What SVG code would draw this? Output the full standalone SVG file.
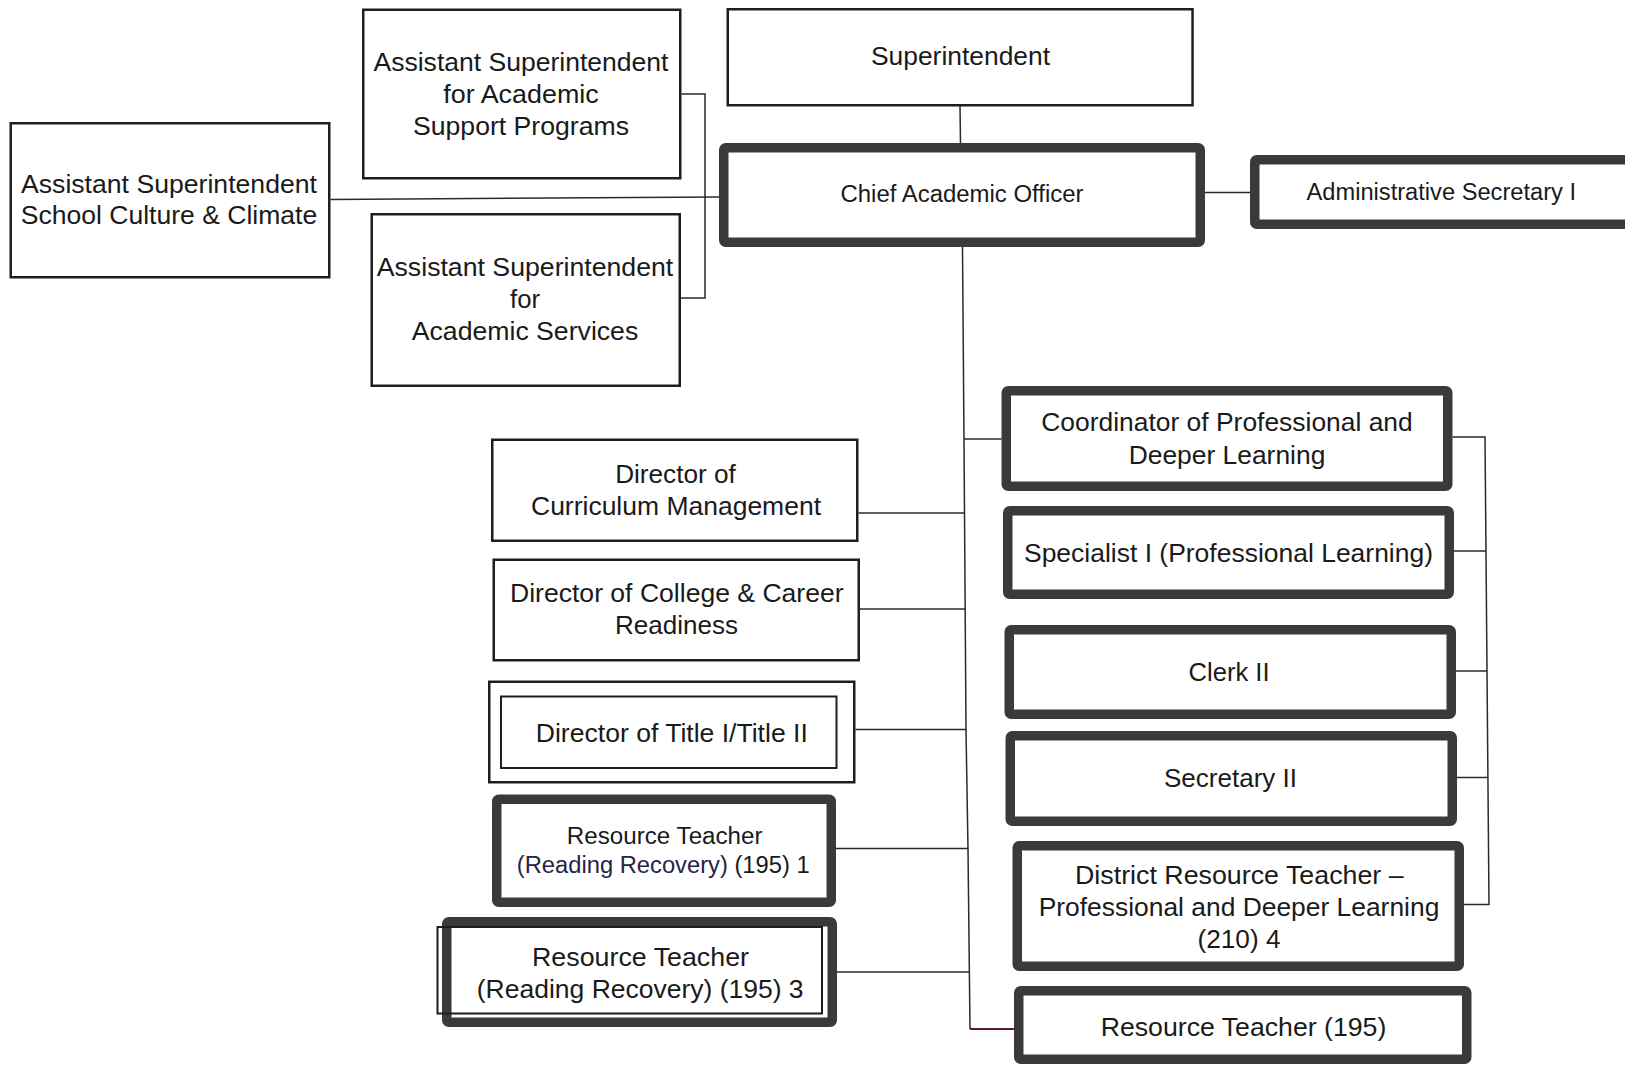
<svg xmlns="http://www.w3.org/2000/svg" width="1625" height="1066" viewBox="0 0 1625 1066">
<style>
  .bg{fill:#ffffff}
  .thin{fill:#ffffff;stroke:#1e1e1e;stroke-width:2.5}
  .thin2{fill:none;stroke:#1e1e1e;stroke-width:2}
  .thick{fill:#ffffff;stroke:#3a3a3a;stroke-width:9.5}
  .conn{fill:none;stroke:#2a2a2a;stroke-width:1.5}
  .connr{fill:none;stroke:#5a1a26;stroke-width:2}
  text{font-family:"Liberation Sans",Arial,sans-serif;fill:#1a1a1a;text-anchor:middle}
  .f25{font-size:25px}
  .f26{font-size:26px}
  .f235{font-size:23.5px}
</style>
<rect class="bg" x="0" y="0" width="1625" height="1066"/>

<g id="connectors">
  <line class="conn" x1="960" y1="106" x2="960.5" y2="143"/>
  <line class="conn" x1="330.5" y1="199.5" x2="719" y2="197"/>
  <polyline class="conn" points="681.5,94 705,94 705,298 681,298"/>
  <line class="conn" x1="1205" y1="192.5" x2="1250" y2="192.5"/>
  <polyline class="conn" points="962.5,247 964,440 966,730 968,849 970,1029"/>
  <line class="conn" x1="964" y1="439" x2="1001.5" y2="439"/>
  <line class="conn" x1="858.5" y1="513" x2="964.8" y2="513"/>
  <line class="conn" x1="860" y1="609" x2="965.5" y2="609"/>
  <line class="conn" x1="855.5" y1="729.5" x2="966" y2="729.5"/>
  <line class="conn" x1="836" y1="848.5" x2="968" y2="848.5"/>
  <line class="conn" x1="837" y1="972" x2="969.4" y2="972"/>
  <line class="connr" x1="970" y1="1029" x2="1014" y2="1029"/>
  <polyline class="conn" points="1452.5,437 1485,437 1489,904.5 1464,904.5"/>
  <line class="conn" x1="1454" y1="551" x2="1486" y2="551"/>
  <line class="conn" x1="1456" y1="671" x2="1487" y2="671"/>
  <line class="conn" x1="1457" y1="777.5" x2="1488" y2="777.5"/>
</g>

<g id="asst-supt-academic-support">
  <rect class="thin" x="363.25" y="9.75" width="317" height="168.5"/>
  <text class="f25" x="521" y="71" textLength="295" lengthAdjust="spacingAndGlyphs">Assistant Superintendent</text>
  <text class="f25" x="521" y="103" textLength="155.5" lengthAdjust="spacingAndGlyphs">for Academic</text>
  <text class="f25" x="521" y="135" textLength="216" lengthAdjust="spacingAndGlyphs">Support Programs</text>
</g>

<g id="superintendent">
  <rect class="thin" x="727.75" y="9.25" width="464.8" height="96"/>
  <text class="f25" x="960.5" y="65" textLength="179" lengthAdjust="spacingAndGlyphs">Superintendent</text>
</g>

<g id="asst-supt-culture-climate">
  <rect class="thin" x="10.75" y="123.25" width="318.5" height="154"/>
  <text class="f25" x="169" y="192.5" textLength="296" lengthAdjust="spacingAndGlyphs">Assistant Superintendent</text>
  <text class="f25" x="169" y="223.5" textLength="296.5" lengthAdjust="spacingAndGlyphs">School Culture &amp; Climate</text>
</g>

<g id="chief-academic-officer">
  <rect class="thick" x="723.75" y="147.75" width="476.5" height="94.5" rx="2"/>
  <text class="f235" x="962" y="202" textLength="243" lengthAdjust="spacingAndGlyphs">Chief Academic Officer</text>
</g>

<g id="administrative-secretary">
  <rect class="thick" x="1254.75" y="159.75" width="380" height="64.5" rx="2"/>
  <text class="f235" x="1441.3" y="199.5" textLength="269.6" lengthAdjust="spacingAndGlyphs">Administrative Secretary I</text>
</g>

<g id="asst-supt-academic-services">
  <rect class="thin" x="371.75" y="214.25" width="308" height="171.5"/>
  <text class="f25" x="525" y="276" textLength="296.5" lengthAdjust="spacingAndGlyphs">Assistant Superintendent</text>
  <text class="f25" x="525" y="307.5" textLength="30" lengthAdjust="spacingAndGlyphs">for</text>
  <text class="f25" x="525" y="339.5" textLength="226.5" lengthAdjust="spacingAndGlyphs">Academic Services</text>
</g>

<g id="coordinator-professional-learning">
  <rect class="thick" x="1006.25" y="390.75" width="441.5" height="95.5" rx="2"/>
  <text class="f26" x="1227" y="430.5" textLength="371.5" lengthAdjust="spacingAndGlyphs">Coordinator of Professional and</text>
  <text class="f26" x="1227" y="463.5" textLength="196.7" lengthAdjust="spacingAndGlyphs">Deeper Learning</text>
</g>

<g id="director-curriculum">
  <rect class="thin" x="492.25" y="439.75" width="365" height="101"/>
  <text class="f26" x="675.5" y="482.5" textLength="120.7" lengthAdjust="spacingAndGlyphs">Director of</text>
  <text class="f26" x="676" y="515" textLength="290" lengthAdjust="spacingAndGlyphs">Curriculum Management</text>
</g>

<g id="specialist-professional-learning">
  <rect class="thick" x="1007.75" y="510.75" width="441.5" height="83.5" rx="2"/>
  <text class="f26" x="1228.5" y="561.5" textLength="409" lengthAdjust="spacingAndGlyphs">Specialist I (Professional Learning)</text>
</g>

<g id="director-college-career">
  <rect class="thin" x="493.75" y="559.75" width="365" height="100.5"/>
  <text class="f26" x="676.8" y="602" textLength="333.6" lengthAdjust="spacingAndGlyphs">Director of College &amp; Career</text>
  <text class="f26" x="676.5" y="634" textLength="123" lengthAdjust="spacingAndGlyphs">Readiness</text>
</g>

<g id="clerk-ii">
  <rect class="thick" x="1009.25" y="629.75" width="442" height="84.5" rx="2"/>
  <text class="f26" x="1229" y="681" textLength="81" lengthAdjust="spacingAndGlyphs">Clerk II</text>
</g>

<g id="director-title">
  <rect class="thin" x="489.25" y="681.75" width="365" height="100.5"/>
  <rect class="thin2" x="501" y="696.5" width="335.5" height="71.5"/>
  <text class="f26" x="671.8" y="741.5" textLength="272" lengthAdjust="spacingAndGlyphs">Director of Title I/Title II</text>
</g>

<g id="secretary-ii">
  <rect class="thick" x="1010.25" y="735.75" width="442" height="85.5" rx="2"/>
  <text class="f26" x="1230.5" y="787" textLength="133" lengthAdjust="spacingAndGlyphs">Secretary II</text>
</g>

<g id="resource-teacher-rr-1">
  <rect class="thick" x="496.75" y="799.25" width="334.5" height="103" rx="2"/>
  <text class="f235" x="664.7" y="844" textLength="195.7" lengthAdjust="spacingAndGlyphs">Resource Teacher</text>
  <text class="f235" x="663.2" y="872.5" textLength="292.8" lengthAdjust="spacingAndGlyphs"><tspan fill="#262444">(Reading Recovery)</tspan> (195) 1</text>
</g>

<g id="district-resource-teacher">
  <rect class="thick" x="1017.25" y="845.75" width="442" height="120.5" rx="2"/>
  <text class="f26" x="1239.3" y="884" textLength="328.6" lengthAdjust="spacingAndGlyphs">District Resource Teacher –</text>
  <text class="f26" x="1239" y="916" textLength="400.7" lengthAdjust="spacingAndGlyphs">Professional and Deeper Learning</text>
  <text class="f26" x="1239" y="947.5" textLength="83" lengthAdjust="spacingAndGlyphs">(210) 4</text>
</g>

<g id="resource-teacher-rr-3">
  <rect class="thick" x="446.75" y="921.75" width="385.5" height="100.5" rx="2"/>
  <rect class="thin2" x="437.5" y="927" width="384.5" height="86.5"/>
  <text class="f26" x="640.5" y="965.5" textLength="217" lengthAdjust="spacingAndGlyphs">Resource Teacher</text>
  <text class="f26" x="640.2" y="997.5" textLength="326.8" lengthAdjust="spacingAndGlyphs">(Reading Recovery) (195) 3</text>
</g>

<g id="resource-teacher-195">
  <rect class="thick" x="1018.75" y="990.75" width="448" height="68.5" rx="2"/>
  <text class="f26" x="1243.5" y="1035.5" textLength="285.7" lengthAdjust="spacingAndGlyphs">Resource Teacher (195)</text>
</g>
</svg>
